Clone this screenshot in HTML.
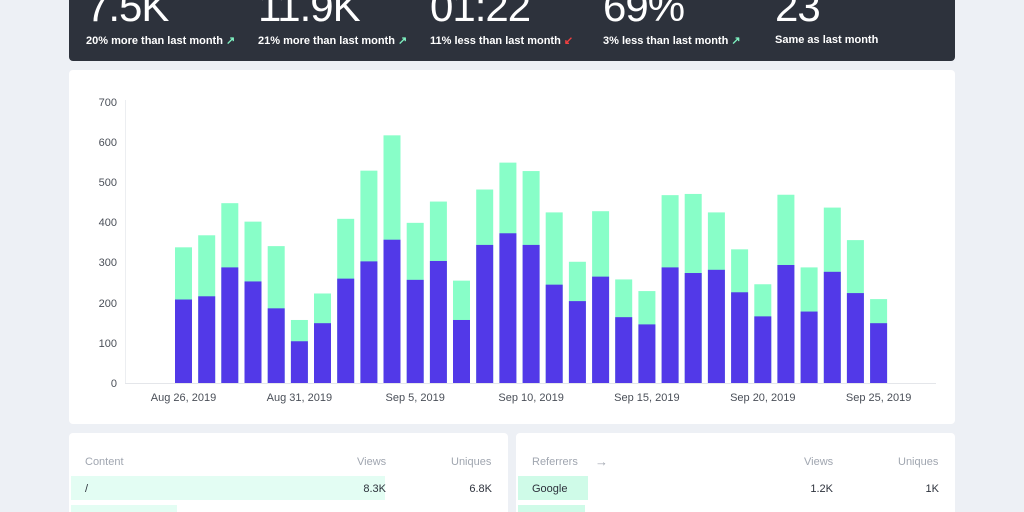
<!DOCTYPE html>
<html style="overflow:hidden;height:512px"><head><meta charset="utf-8"><style>
body{margin:0;width:1024px;height:512px;background:#edf0f5;font-family:"Liberation Sans",sans-serif;position:relative;overflow:hidden}
.top{position:absolute;left:69px;top:-10px;width:886px;height:71px;background:#2d323c;border-radius:4px;color:#fff}
.big{position:absolute;top:-7px;font-size:42px;font-weight:300;white-space:nowrap;letter-spacing:-1px}
.sub{position:absolute;top:44px;font-size:11px;font-weight:bold;white-space:nowrap}
.card{position:absolute;background:#fff;border-radius:4px}
.h{position:absolute;font-size:11px;color:#a0a6b0}
.c{position:absolute;font-size:11px;color:#2d323c}
</style></head><body>
<div class="top">
<div class="big" style="left:17px">7.5K</div><div class="sub" style="left:17px">20% more than last month <span style="color:#7ef0c0">↗</span></div>
<div class="big" style="left:189px">11.9K</div><div class="sub" style="left:189px">21% more than last month <span style="color:#7ef0c0">↗</span></div>
<div class="big" style="left:361px">01:22</div><div class="sub" style="left:361px">11% less than last month <span style="color:#f04040">↙</span></div>
<div class="big" style="left:534px">69%</div><div class="sub" style="left:534px">3% less than last month <span style="color:#7ef0c0">↗</span></div>
<div class="big" style="left:706px">23</div><div class="sub" style="left:706px">Same as last month</div>
</div>
<div class="card" style="left:69px;top:70px;width:886px;height:354px"></div>
<svg style="position:absolute;left:0;top:0" width="1024" height="512">
<g font-size="11" fill="#4a4f58" text-anchor="end" font-family="Liberation Sans,sans-serif">
<text x="117" y="387">0</text><text x="117" y="347">100</text><text x="117" y="307">200</text><text x="117" y="266">300</text><text x="117" y="226">400</text><text x="117" y="186">500</text><text x="117" y="146">600</text><text x="117" y="106">700</text>
</g>
<line x1="125.5" y1="100" x2="125.5" y2="383" stroke="#eceef1"/>
<line x1="125" y1="383.5" x2="936" y2="383.5" stroke="#e4e6ea"/>
<g font-size="11" fill="#4a4f58" text-anchor="middle" font-family="Liberation Sans,sans-serif">
<text x="183.5" y="401">Aug 26, 2019</text><text x="299.4" y="401">Aug 31, 2019</text><text x="415.2" y="401">Sep 5, 2019</text><text x="531.1" y="401">Sep 10, 2019</text><text x="646.9" y="401">Sep 15, 2019</text><text x="762.8" y="401">Sep 20, 2019</text><text x="878.6" y="401">Sep 25, 2019</text>
</g>
<g transform="translate(0,383) scale(1,-0.4014)">
<g fill="#88fec8">
<rect x="175" width="17" height="338"/><rect x="198.2" width="17" height="368"/><rect x="221.3" width="17" height="448"/><rect x="244.5" width="17" height="402"/><rect x="267.7" width="17" height="341"/><rect x="290.9" width="17" height="157"/><rect x="314" width="17" height="223"/><rect x="337.2" width="17" height="409"/><rect x="360.4" width="17" height="529"/><rect x="383.5" width="17" height="617"/><rect x="406.7" width="17" height="399"/><rect x="429.9" width="17" height="452"/><rect x="453" width="17" height="255"/><rect x="476.2" width="17" height="482"/><rect x="499.4" width="17" height="549"/><rect x="522.6" width="17" height="528"/><rect x="545.7" width="17" height="425"/><rect x="568.9" width="17" height="302"/><rect x="592.1" width="17" height="428"/><rect x="615.2" width="17" height="258"/><rect x="638.4" width="17" height="229"/><rect x="661.6" width="17" height="468"/><rect x="684.7" width="17" height="471"/><rect x="707.9" width="17" height="425"/><rect x="731.1" width="17" height="333"/><rect x="754.3" width="17" height="246"/><rect x="777.4" width="17" height="469"/><rect x="800.6" width="17" height="288"/><rect x="823.8" width="17" height="437"/><rect x="846.9" width="17" height="356"/><rect x="870.1" width="17" height="209"/>
</g>
<g fill="#5239e8">
<rect x="175" width="17" height="208"/><rect x="198.2" width="17" height="216"/><rect x="221.3" width="17" height="288"/><rect x="244.5" width="17" height="253"/><rect x="267.7" width="17" height="186"/><rect x="290.9" width="17" height="104"/><rect x="314" width="17" height="149"/><rect x="337.2" width="17" height="260"/><rect x="360.4" width="17" height="303"/><rect x="383.5" width="17" height="357"/><rect x="406.7" width="17" height="257"/><rect x="429.9" width="17" height="304"/><rect x="453" width="17" height="157"/><rect x="476.2" width="17" height="344"/><rect x="499.4" width="17" height="373"/><rect x="522.6" width="17" height="344"/><rect x="545.7" width="17" height="245"/><rect x="568.9" width="17" height="204"/><rect x="592.1" width="17" height="265"/><rect x="615.2" width="17" height="164"/><rect x="638.4" width="17" height="146"/><rect x="661.6" width="17" height="288"/><rect x="684.7" width="17" height="274"/><rect x="707.9" width="17" height="282"/><rect x="731.1" width="17" height="226"/><rect x="754.3" width="17" height="166"/><rect x="777.4" width="17" height="294"/><rect x="800.6" width="17" height="178"/><rect x="823.8" width="17" height="277"/><rect x="846.9" width="17" height="224"/><rect x="870.1" width="17" height="149"/>
</g>
</g>
</svg>
<div class="card" style="left:69px;top:433px;width:439px;height:79px;border-radius:4px 4px 0 0;overflow:hidden">
<div style="position:absolute;left:2px;top:43px;width:314px;height:24px;background:#e3fdf3"></div>
<div style="position:absolute;left:2px;top:72px;width:106px;height:24px;background:#e3fdf3"></div>
<div class="h" style="left:16px;top:23px">Content</div>
<div class="h" style="left:288px;top:23px">Views</div>
<div class="h" style="left:382px;top:23px">Uniques</div>
<div class="c" style="left:16px;top:50px">/</div>
<div class="c" style="right:122px;top:50px">8.3K</div>
<div class="c" style="right:16px;top:50px">6.8K</div>
</div>
<div class="card" style="left:516px;top:433px;width:439px;height:79px;border-radius:4px 4px 0 0;overflow:hidden">
<div style="position:absolute;left:2px;top:43px;width:70px;height:24px;background:#cffbe8"></div>
<div style="position:absolute;left:2px;top:72px;width:67px;height:24px;background:#cffbe8"></div>
<div class="h" style="left:16px;top:23px">Referrers</div>
<div class="h" style="left:79px;top:21px;font-size:13px">→</div>
<div class="h" style="left:288px;top:23px">Views</div>
<div class="h" style="left:382px;top:23px">Uniques</div>
<div class="c" style="left:16px;top:50px">Google</div>
<div class="c" style="right:122px;top:50px">1.2K</div>
<div class="c" style="right:16px;top:50px">1K</div>
</div>
</body></html>
